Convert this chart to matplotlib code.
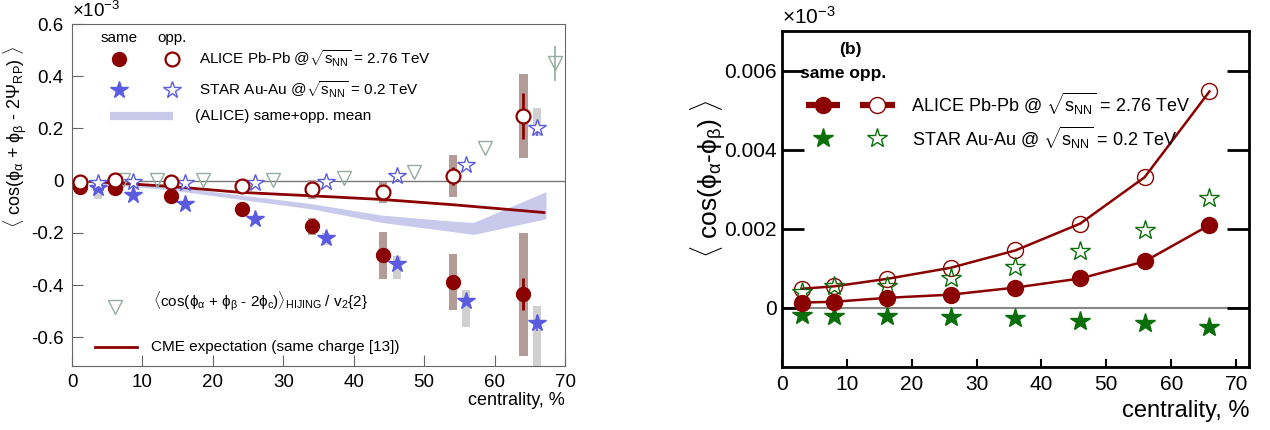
import numpy as np
import matplotlib
matplotlib.use("Agg")
import matplotlib.pyplot as plt

plt.rcParams["font.family"] = ["Liberation Sans", "DejaVu Sans"]
plt.rcParams["mathtext.fontset"] = "custom"
plt.rcParams["mathtext.rm"] = "Liberation Sans"
plt.rcParams["mathtext.it"] = "Liberation Sans"
plt.rcParams["mathtext.bf"] = "Liberation Sans:bold"

# ── left panel: <cos(phi_a + phi_b - 2 Psi_RP)>, units of 1e-3 ──
alice_x = [1.1, 6.1, 14.1, 24.2, 34.1, 44.1, 54.1, 64.1]
alice_same = [-0.023, -0.027, -0.060, -0.110, -0.173, -0.285, -0.390, -0.435]
alice_opp = [-0.004, 0.004, -0.007, -0.019, -0.031, -0.045, 0.019, 0.247]
alice_same_stat = [0.005, 0.005, 0.005, 0.008, 0.010, 0.015, 0.020, 0.062]
alice_opp_stat = [0.005, 0.005, 0.005, 0.006, 0.008, 0.012, 0.035, 0.087]
alice_same_sys_lo = [-0.033, -0.037, -0.070, -0.120, -0.208, -0.377, -0.496, -0.673]
alice_same_sys_hi = [-0.013, -0.017, -0.050, -0.100, -0.142, -0.196, -0.281, -0.200]
alice_opp_sys_lo = [-0.014, -0.006, -0.017, -0.029, -0.070, -0.085, -0.062, 0.088]
alice_opp_sys_hi = [0.006, 0.014, 0.003, -0.009, 0.004, -0.004, 0.100, 0.408]

star_x = [3.7, 8.7, 16.1, 26.0, 36.1, 46.1, 56.0, 66.0]
star_same = [-0.027, -0.054, -0.088, -0.146, -0.220, -0.319, -0.460, -0.545]
star_opp = [-0.009, -0.007, -0.009, -0.009, -0.006, 0.016, 0.059, 0.200]
star_same_stat = [0.005, 0.005, 0.005, 0.006, 0.008, 0.010, 0.015, 0.030]
star_opp_stat = [0.005, 0.005, 0.005, 0.005, 0.006, 0.008, 0.010, 0.030]
star_same_sys_lo = [-0.070, -0.062, -0.098, -0.158, -0.245, -0.377, -0.560, -0.760]
star_same_sys_hi = [-0.010, -0.046, -0.080, -0.136, -0.200, -0.290, -0.420, -0.480]
star_opp_sys_lo = [-0.015, -0.013, -0.015, -0.015, -0.012, 0.008, 0.050, 0.170]
star_opp_sys_hi = [-0.003, -0.001, -0.003, -0.003, 0.000, 0.024, 0.068, 0.280]

hijing_x = [7.3, 12.1, 18.6, 28.6, 38.6, 48.6, 58.6, 68.6]
hijing_y = [0.003, 0.003, 0.003, 0.003, 0.011, 0.035, 0.125, 0.450]
hijing_err = [0.0, 0.0, 0.0, 0.0, 0.0, 0.0, 0.0, 0.067]

cme_x = [2.6, 14.0, 24.0, 34.0, 44.0, 54.0, 64.0, 67.0]
cme_y = [-0.003, -0.022, -0.045, -0.058, -0.072, -0.092, -0.115, -0.122]

band_x = [3.0, 14.0, 24.0, 34.0, 44.0, 54.0, 57.0, 67.3]
band_hi = [-0.004, -0.022, -0.055, -0.088, -0.132, -0.155, -0.160, -0.042]
band_lo = [-0.010, -0.035, -0.072, -0.108, -0.160, -0.195, -0.206, -0.146]

# ── right panel: <cos(phi_a - phi_b)> ──
r_x = [3.1, 8.0, 16.2, 26.0, 36.0, 46.0, 55.9, 65.9]
r_alice_same = [0.00013, 0.00015, 0.00025, 0.00033, 0.00051, 0.00074, 0.00117, 0.00209]
r_alice_opp = [0.00048, 0.00054, 0.00073, 0.00101, 0.00145, 0.00213, 0.00330, 0.00547]
r_star_same = [-0.00018, -0.00020, -0.00020, -0.00023, -0.00026, -0.00033, -0.00038, -0.00048]
r_star_opp = [0.00041, 0.00054, 0.00054, 0.00076, 0.00103, 0.00143, 0.00196, 0.00277]

RED = "#8b0000"
BLUE = "#5b5be0"
GREEN = "#0a6e0a"
BOXRED = "#b39c97"
BOXGREY = "#d0d0d0"
TRI = "#94ad9f"
BAND = "#c9c9eb"

fig = plt.figure(figsize=(12.7, 4.3), dpi=100)

# ── Left ──────────────────────────────────────────────────
ax = fig.add_axes([0.0567, 0.1488, 0.3882, 0.7953])
ax.set_xlim(0, 70)
ax.set_ylim(-0.71, 0.6)
ax.axhline(0, color="#777777", lw=1.0, zorder=1)

ax.fill_between(band_x, band_lo, band_hi, color=BAND, lw=0, zorder=2)
ax.plot(cme_x, cme_y, color=RED, lw=2.0, zorder=3)

w = 1.15
for xs, lo, hi, c in [(alice_x, alice_same_sys_lo, alice_same_sys_hi, BOXRED),
                      (alice_x, alice_opp_sys_lo, alice_opp_sys_hi, BOXRED),
                      (star_x, star_same_sys_lo, star_same_sys_hi, BOXGREY),
                      (star_x, star_opp_sys_lo, star_opp_sys_hi, BOXGREY)]:
    ax.bar(xs, np.subtract(hi, lo), bottom=lo, width=w, color=c, lw=0, zorder=2.5)

ax.errorbar(hijing_x, hijing_y, yerr=hijing_err, fmt="v", ms=10, mfc="none",
            mec=TRI, mew=1.0, ecolor=TRI, elinewidth=1.2, capsize=0, zorder=4)
ax.errorbar(star_x, star_same, yerr=star_same_stat, fmt="*", ms=13, color=BLUE,
            mec=BLUE, elinewidth=1.2, capsize=0, zorder=5)
ax.errorbar(star_x, star_opp, yerr=star_opp_stat, fmt="*", ms=13, mfc="white",
            mec=BLUE, mew=1.0, ecolor=BLUE, elinewidth=1.2, capsize=0, zorder=5)
ax.errorbar(alice_x, alice_same, yerr=alice_same_stat, fmt="o", ms=10, color=RED,
            elinewidth=2.0, capsize=0, zorder=6)
ax.errorbar(alice_x, alice_opp, yerr=alice_opp_stat, fmt="o", ms=10, mfc="white",
            mec=RED, mew=1.6, ecolor=RED, elinewidth=2.0, capsize=0, zorder=6)

ax.set_xticks(range(0, 71, 10))
ax.set_yticks([-0.6, -0.4, -0.2, 0, 0.2, 0.4, 0.6],
              ["-0.6", "-0.4", "-0.2", "0", "0.2", "0.4", "0.6"])
ax.tick_params(direction="in", length=8, color="#666666", labelsize=13.5, pad=6)
for s in ax.spines.values():
    s.set_color("#666666")
ax.text(0.0, 1.01, r"$\times10^{-3}$", transform=ax.transAxes, fontsize=13.5,
        ha="left", va="bottom")
ax.set_ylabel(r"$\langle$ cos($\phi_\alpha$ + $\phi_\beta$ - 2$\Psi_{\rm RP}$) $\rangle$",
              fontsize=13)
ax.yaxis.set_label_coords(-0.088, 0.67)
ax.text(1.0, -0.10, "centrality, %", transform=ax.transAxes, fontsize=13,
        ha="right", va="center")

# legend (left)
T = ax.transAxes
ax.text(0.095, 0.959, "same", transform=T, fontsize=11, ha="center", va="center")
ax.text(0.203, 0.959, "opp.", transform=T, fontsize=11, ha="center", va="center")
ax.plot([0.095], [0.898], "o", ms=10, color=RED, transform=T)
ax.plot([0.203], [0.898], "o", ms=10, mfc="white", mec=RED, mew=1.6, transform=T)
ax.text(0.258, 0.898, r"ALICE Pb-Pb @$\sqrt{s_{\rm NN}}$ = 2.76 TeV", transform=T,
        fontsize=11, ha="left", va="center")
ax.plot([0.095], [0.807], "*", ms=13, color=BLUE, transform=T)
ax.plot([0.203], [0.807], "*", ms=13, mfc="white", mec=BLUE, mew=1.0, transform=T)
ax.text(0.258, 0.807, r"STAR Au-Au @$\sqrt{s_{\rm NN}}$ = 0.2 TeV", transform=T,
        fontsize=11, ha="left", va="center")
ax.plot([0.077, 0.205], [0.731, 0.731], color=BAND, lw=6, solid_capstyle="butt",
        transform=T)
ax.text(0.249, 0.731, "(ALICE) same+opp. mean", transform=T, fontsize=11,
        ha="left", va="center")
ax.plot([0.087], [0.173], "v", ms=10, mfc="none", mec=TRI, mew=1.0, transform=T)
ax.text(0.164, 0.190,
        r"$\langle$cos($\phi_\alpha$ + $\phi_\beta$ - 2$\phi_c$)$\rangle_{\rm HIJING}$ / v$_2${2}",
        transform=T, fontsize=11, ha="left", va="center")
ax.plot([0.047, 0.132], [0.056, 0.056], color=RED, lw=2.0, transform=T)
ax.text(0.160, 0.056, "CME expectation (same charge [13])", transform=T,
        fontsize=11, ha="left", va="center")

# ── Right ─────────────────────────────────────────────────
bx = fig.add_axes([0.6157, 0.1465, 0.3678, 0.7814])
bx.set_xlim(0, 72)
bx.set_ylim(-0.0015, 0.007)
bx.axhline(0, color="#888888", lw=1.5, zorder=1)

bx.plot(r_x, r_alice_opp, "o", ls="-", color=RED, lw=1.8, ms=11.5, mfc="none",
        mew=1.0, zorder=3)
bx.plot(r_x, r_alice_same, "o", ls="-", color=RED, lw=1.8, ms=11.5, zorder=4)
bx.plot(r_x, r_star_opp, "*", ls="none", ms=15, mfc="none", mec=GREEN, mew=1.0,
        zorder=3)
bx.plot(r_x, r_star_same, "*", ls="none", ms=15, color=GREEN, zorder=3)

bx.set_xticks(range(0, 71, 10))
bx.set_yticks([0, 0.002, 0.004, 0.006], ["0", "0.002", "0.004", "0.006"])
bx.tick_params(axis="y", direction="in", length=16, width=2, labelsize=15,
               right=True, pad=4)
bx.tick_params(axis="x", direction="in", length=6, width=1.5, labelsize=15, pad=6)
for s in bx.spines.values():
    s.set_linewidth(2)
bx.text(0.0, 1.01, r"$\times10^{-3}$", transform=bx.transAxes, fontsize=15,
        ha="left", va="bottom")
bx.set_ylabel(r"$\langle$ cos($\phi_\alpha$-$\phi_\beta$) $\rangle$", fontsize=19)
bx.yaxis.set_label_coords(-0.115, 0.56)
bx.text(1.0, -0.13, "centrality, %", transform=bx.transAxes, fontsize=17,
        ha="right", va="center")

U = bx.transAxes
bx.text(0.146, 0.946, "(b)", transform=U, fontsize=12.5, fontweight="bold",
        ha="center", va="center")
bx.text(0.039, 0.875, "same opp.", transform=U, fontsize=12.5, fontweight="bold",
        ha="left", va="center")
bx.plot([0.051, 0.124], [0.78, 0.78], color=RED, lw=4.5, solid_capstyle="butt",
        transform=U)
bx.plot([0.088], [0.78], "o", ms=11.5, color=RED, transform=U)
bx.plot([0.167, 0.242], [0.78, 0.78], color=RED, lw=4.5, solid_capstyle="butt",
        transform=U)
bx.plot([0.203], [0.78], "o", ms=11.5, mfc="white", mec=RED, mew=1.0, transform=U)
bx.text(0.276, 0.783, r"ALICE Pb-Pb @ $\sqrt{s_{\rm NN}}$ = 2.76 TeV", transform=U,
        fontsize=13, ha="left", va="center")
bx.plot([0.088], [0.682], "*", ms=15, color=GREEN, transform=U)
bx.plot([0.203], [0.682], "*", ms=15, mfc="none", mec=GREEN, mew=1.0, transform=U)
bx.text(0.278, 0.682, r"STAR Au-Au @ $\sqrt{s_{\rm NN}}$ = 0.2 TeV", transform=U,
        fontsize=13, ha="left", va="center")

fig.savefig("out.png", dpi=100)
